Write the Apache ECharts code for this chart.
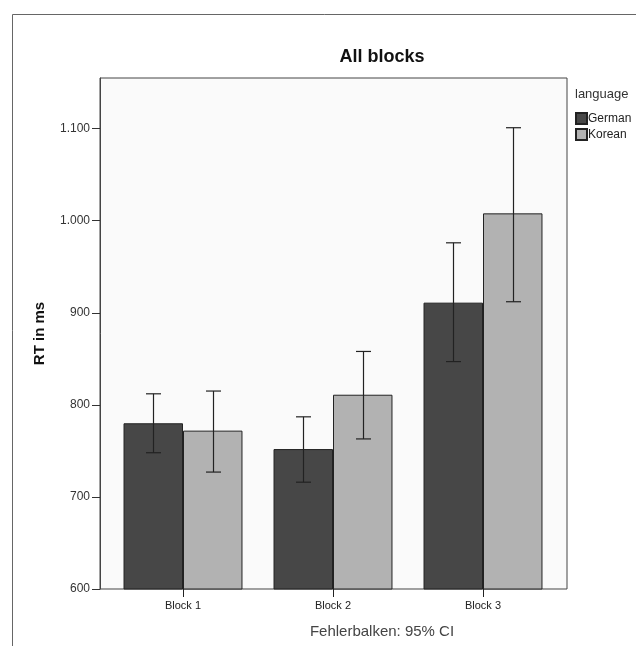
<!DOCTYPE html>
<html><head><meta charset="utf-8">
<script src="https://cdn.jsdelivr.net/npm/echarts@6/dist/echarts.min.js"></script>
<style>html,body{margin:0;padding:0;background:#fff}#c{width:636px;height:646px}</style>
</head><body><div id="c"></div>
<script>
var categories = ['Block 1', 'Block 2', 'Block 3'];
var seriesNames = ['German', 'Korean'];
var germanMean = [780, 752, 911];
var germanLow = [748, 716, 847];
var germanHigh = [812, 787, 976];
var koreanMean = [772, 811, 1008];
var koreanLow = [727, 763, 912];
var koreanHigh = [815, 858, 1101];
var yTicks = [600, 700, 800, 900, 1000, 1100];

var FONT = 'Liberation Sans';
var gapRatio = 0.207;
function fmt(v){ return v >= 1000 ? Math.floor(v/1000) + '.' + String(v%1000).padStart(3,'0') : String(v); }

var errData = [];
for (var i = 0; i < categories.length; i++) {
  errData.push([i, 0, germanLow[i], germanHigh[i]]);
  errData.push([i, 1, koreanLow[i], koreanHigh[i]]);
}

var chart = echarts.init(document.getElementById('c'));
chart.setOption({
  animation: false,
  backgroundColor: '#fff',
  legend: { orient: 'vertical', left: 575, top: 112, padding: 0, itemWidth: 11, itemHeight: 11, itemGap: 3,
    icon: 'rect', data: seriesNames,
    textStyle: { fontFamily: FONT, fontSize: 12, color: '#222', padding: [0,0,0,-4] } },
  grid: [
    { left: 108, top: 78, width: 450, height: 511, show: false },
    { left: 100, top: 78, width: 467, height: 511, show: true, backgroundColor: '#fafafa', borderColor: '#444', borderWidth: 1 }
  ],
  xAxis: [
    { type: 'category', gridIndex: 0, data: categories, boundaryGap: true,
      axisLine: { show: false },
      axisTick: { show: true, alignWithLabel: true, length: 8, lineStyle: { color: '#222' } },
      axisLabel: { fontFamily: FONT, fontSize: 11, color: '#222', margin: 11 } },
    { type: 'category', gridIndex: 1, data: categories, show: false }
  ],
  yAxis: [
    { type: 'value', gridIndex: 0, min: 600, max: 1155, show: false, splitLine: { show: false } },
    { type: 'value', gridIndex: 1, min: 600, max: 1155, interval: 100,
      axisLine: { show: true, lineStyle: { color: '#444' } },
      axisTick: { show: true, length: 8, lineStyle: { color: '#333' } },
      splitLine: { show: false },
      axisLabel: { fontFamily: FONT, fontSize: 12, color: '#333', margin: 10, showMaxLabel: false,
        formatter: function(v){ return yTicks.indexOf(v) >= 0 ? fmt(v) : ''; } },
      name: 'RT in ms', nameLocation: 'middle', nameGap: 53, nameRotate: 90,
      nameTextStyle: { fontFamily: FONT, fontSize: 15, fontWeight: 'bold', color: '#111' } }
  ],
  series: [
    { name: 'German', type: 'bar', xAxisIndex: 0, yAxisIndex: 0, data: germanMean,
      barGap: '0%', barCategoryGap: (gapRatio*100) + '%',
      itemStyle: { color: '#474747', borderColor: '#222', borderWidth: 1 } },
    { name: 'Korean', type: 'bar', xAxisIndex: 0, yAxisIndex: 0, data: koreanMean,
      barGap: '0%', barCategoryGap: (gapRatio*100) + '%',
      itemStyle: { color: '#b2b2b2', borderColor: '#222', borderWidth: 1 } },
    { type: 'custom', xAxisIndex: 0, yAxisIndex: 0, data: errData, z: 5,
      renderItem: function(params, api) {
        var cat = api.value(0), s = api.value(1);
        var bw = api.size([1, 0])[0] * (1 - gapRatio) / 2;
        var c = api.coord([cat, 0]);
        var x = Math.round(c[0] + (s === 0 ? -bw/2 : bw/2)) + 0.5;
        var lo = api.coord([cat, api.value(2)])[1];
        var hi = api.coord([cat, api.value(3)])[1];
        var cap = 7.5;
        var st = { stroke: '#222', lineWidth: 1.2 };
        return { type: 'group', children: [
          { type: 'line', shape: { x1: x, y1: lo, x2: x, y2: hi }, style: st },
          { type: 'line', shape: { x1: x-cap, y1: hi, x2: x+cap, y2: hi }, style: st },
          { type: 'line', shape: { x1: x-cap, y1: lo, x2: x+cap, y2: lo }, style: st }
        ]};
      } }
  ],
  graphic: [
    { type: 'line', shape: { x1: 12.5, y1: 14.5, x2: 636, y2: 14.5 }, style: { stroke: '#666', lineWidth: 1 } },
    { type: 'line', shape: { x1: 12.5, y1: 14.5, x2: 12.5, y2: 646 }, style: { stroke: '#666', lineWidth: 1 } },
    { type: 'text', x: 382, y: 57, style: { text: 'All blocks', fontFamily: FONT, fontSize: 18, fontWeight: 'bold', fill: '#111', align: 'center', verticalAlign: 'middle' } },
    { type: 'text', x: 575, y: 94, style: { text: 'language', fontFamily: FONT, fontSize: 13, fill: '#333', align: 'left', verticalAlign: 'middle' } },
    { type: 'text', x: 382, y: 632, style: { text: 'Fehlerbalken: 95% CI', fontFamily: FONT, fontSize: 15, fill: '#444', align: 'center', verticalAlign: 'middle' } }
  ]
});
</script></body></html>
